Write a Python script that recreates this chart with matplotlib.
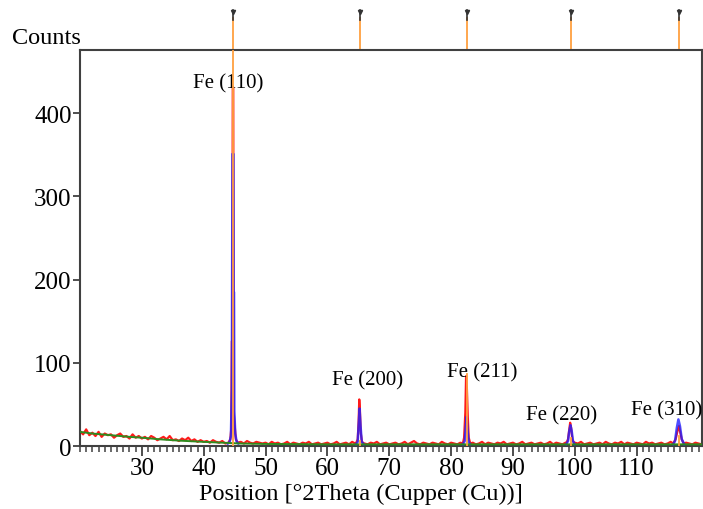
import numpy as np
import matplotlib.pyplot as plt
from matplotlib.ticker import MultipleLocator

# ---- measured pattern: background scan, 0.5 deg steps from 20 to 120.5 ----
scan_x = np.arange(20, 120.51, 0.5)
scan_bg = (
    [18, 14, 20, 13, 16, 12, 17, 11, 15, 13, 14, 10, 13, 15, 11, 12, 9, 14, 10, 12]
    + [9, 11, 8, 12, 10, 7, 9, 11, 8, 12, 7, 8, 6, 9, 7, 10, 6, 8, 5, 7]
    + [5, 6, 4, 7, 5, 4, 6, 3, 5, 4, 6, 4, 5, 3, 6, 4, 3, 5, 4, 3]
    + [4, 2, 5, 3, 4, 2, 3, 5, 2, 4, 3, 2, 4, 3, 5, 2, 3, 4, 2, 3]
    + [4, 2, 3, 5, 2, 3, 4, 2, 5, 3, 2, 4, 3, 2, 4, 3, 5, 2, 3, 4]
    + [2, 3, 4, 2, 3, 5, 2, 4, 6, 3, 2, 4, 3, 2, 4, 3, 2, 5, 3, 2]
    + [4, 3, 2, 4, 3, 2, 3, 4, 2, 3, 5, 2, 4, 3, 2, 4, 3, 5, 2, 3]
    + [4, 2, 3, 5, 2, 3, 4, 2, 3, 4, 2, 3, 5, 2, 4, 3, 2, 4, 3, 2]
    + [4, 3, 5, 2, 3, 4, 2, 3, 4, 2, 5, 3, 2, 4, 3, 5, 2, 4, 3, 2]
    + [4, 3, 2, 5, 3, 4, 2, 3, 4, 2, 3, 5, 2, 4, 3, 2, 4, 3, 2, 4]
    + [3, 2]
)

# measured counts around each reflection
obs_110_x = [44.0, 44.3, 44.45, 44.55, 44.62, 44.7, 44.78, 44.85, 45.0, 45.2, 45.5]
obs_110_y = [4, 8, 20, 126, 126, 431, 431, 40, 25, 8, 4]
obs_200_x = [64.6, 64.9, 65.05, 65.15, 65.25, 65.4, 65.6, 65.9]
obs_200_y = [3, 8, 30, 56, 45, 15, 5, 3]
obs_211_x = [81.9, 82.1, 82.3, 82.42, 82.55, 82.7, 82.85, 83.1]
obs_211_y = [3, 10, 40, 84, 70, 35, 10, 3]
obs_220_x = [98.6, 98.9, 99.1, 99.25, 99.4, 99.6, 99.9]
obs_220_y = [3, 8, 20, 28, 22, 8, 3]
obs_310_x = [115.9, 116.3, 116.6, 116.85, 117.0, 117.3, 117.6]
obs_310_y = [3, 8, 18, 24, 18, 8, 3]

# calculated profile around each reflection
calc_110_x = [43.9, 44.2, 44.4, 44.55, 44.65, 44.8, 44.84, 44.9, 44.95, 45.1, 45.3, 45.6]
calc_110_y = [3, 5, 12, 68, 351, 351, 185, 185, 42, 15, 6, 3]
calc_200_x = [64.6, 64.9, 65.05, 65.2, 65.35, 65.55, 65.9]
calc_200_y = [2, 5, 25, 45, 25, 5, 2]
calc_211_x = [81.9, 82.2, 82.35, 82.5, 82.65, 82.85, 83.1]
calc_211_y = [2, 6, 20, 35, 20, 5, 2]
calc_220_x = [98.6, 98.9, 99.1, 99.3, 99.5, 99.7, 100.0]
calc_220_y = [2, 6, 18, 25, 18, 6, 2]
calc_310_x = [115.9, 116.2, 116.5, 116.75, 117.0, 117.3, 117.7]
calc_310_y = [2, 6, 22, 32, 24, 8, 2]

# fitted background
bkg_x = [20, 22, 25, 28, 30, 33, 36, 40, 43, 46, 50, 60, 80, 100, 120.5]
bkg_y = [17, 15, 13, 11, 10, 8, 6.5, 5, 4, 3, 2.5, 2, 2, 2, 2]

# reference pattern (Fe)
ref_pos = [44.8, 65.28, 82.52, 99.33, 116.88]
ref_int = [500, 6, 86, 10, 12]
ref_labels = ["Fe (110)", "Fe (200)", "Fe (211)", "Fe (220)", "Fe (310)"]
label_x = [44.0, 66.5, 85.0, 97.8, 114.9]
label_y = [437, 79, 89, 38, 44]

obs_peaks = [(obs_110_x, obs_110_y), (obs_200_x, obs_200_y), (obs_211_x, obs_211_y),
             (obs_220_x, obs_220_y), (obs_310_x, obs_310_y)]
calc_peaks = [(calc_110_x, calc_110_y), (calc_200_x, calc_200_y), (calc_211_x, calc_211_y),
              (calc_220_x, calc_220_y), (calc_310_x, calc_310_y)]

# merge the background scan with the peak points
keep = np.ones(len(scan_x), dtype=bool)
for px, py in obs_peaks:
    keep &= ~((scan_x >= px[0]) & (scan_x <= px[-1]))
red_x = list(scan_x[keep])
red_y = list(np.array(scan_bg)[keep])
for px, py in obs_peaks:
    red_x += px
    red_y += py
order = np.argsort(red_x)
red_x = np.array(red_x)[order]
red_y = np.array(red_y)[order]

plt.rcParams['font.family'] = ['Liberation Serif', 'DejaVu Serif']

fig = plt.figure(figsize=(7.03, 5.10), dpi=100)
ax = fig.add_axes([0.1138, 0.1235, 0.8842, 0.7765])

ax.plot(red_x, red_y, color='#ff1a1a', lw=1.6, zorder=2)
for cx, cy in calc_peaks:
    ax.plot(cx, cy, color='#2020ff', lw=1.8, alpha=0.8, zorder=3)
ax.plot(bkg_x, bkg_y, color='#2e8b1e', lw=1.4, zorder=4)

# reference sticks inside the plot and markers above it
tr = ax.get_xaxis_transform()
for pos, inten in zip(ref_pos, ref_int):
    ax.plot([pos, pos], [0, inten], color='#ffa040', lw=1.3, zorder=5)
    ax.plot([pos, pos], [1.0, 1.08], color='#ffa040', lw=1.3, transform=tr, clip_on=False)
    ax.plot([pos, pos], [1.075, 1.1], color='#333333', lw=1.2, transform=tr, clip_on=False)
    ax.plot([pos], [1.095], marker='v', ms=3, color='#333333', transform=tr, clip_on=False)

for txt, lx, ly in zip(ref_labels, label_x, label_y):
    ax.text(lx, ly, txt, ha='center', va='center', fontsize=15)

ax.set_xlim(20, 120.5)
ax.set_ylim(0, 476)
ax.set_yticks([0, 100, 200, 300, 400])
ax.xaxis.set_major_locator(MultipleLocator(10))
ax.xaxis.set_minor_locator(MultipleLocator(1))
ax.set_xticks([30, 40, 50, 60, 70, 80, 90, 100, 110])
ax.tick_params(axis='both', which='major', labelsize=18, colors='#404040',
               labelcolor='black', width=1.3, direction='out')
ax.tick_params(axis='x', which='major', length=7, pad=1)
ax.tick_params(axis='y', which='major', length=5, pad=1)
ax.tick_params(axis='x', which='minor', length=4, width=1.1, colors='#404040')
for sp in ax.spines.values():
    sp.set_color('#404040')
    sp.set_linewidth(1.5)

fig.text(0.017, 0.925, "Counts", fontsize=17.5, va='center', ha='left')
fig.text(0.513, 0.03, "Position [°2Theta (Cupper (Cu))]", fontsize=17.5, ha='center', va='center')

fig.savefig('out.png', dpi=100)
